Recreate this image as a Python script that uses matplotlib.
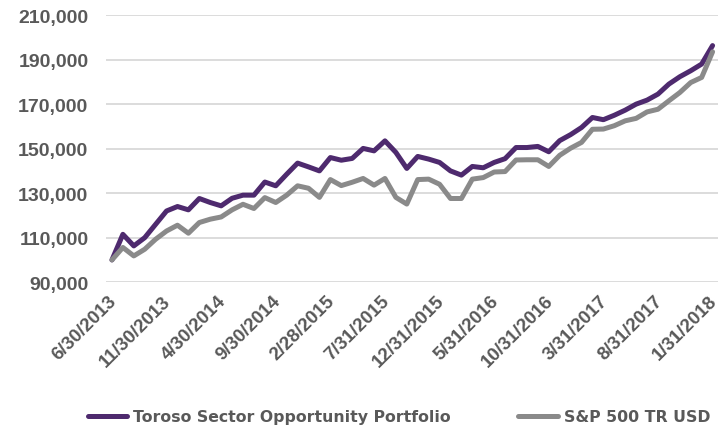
import matplotlib
matplotlib.use("Agg")
import matplotlib.pyplot as plt
import matplotlib.transforms as mtransforms
from matplotlib.ticker import FuncFormatter
import pandas as pd

# Monthly dates 6/30/2013 .. 1/31/2018
dates = pd.date_range("2013-06-30", "2018-01-31", freq="ME")
date_labels = [f"{d.month}/{d.day}/{d.year}" for d in dates]

toroso = [100000, 111500, 106300, 110000, 116000, 122000, 124000, 122500, 127600, 125800,
          124300, 127700, 129100, 129100, 135000, 133300, 138500, 143500, 141800, 140000,
          146000, 144800, 145600, 150100, 149000, 153500, 148300, 141100, 146500, 145300,
          143800, 140000, 138100, 142000, 141400, 143800, 145500, 150500, 150500, 151000,
          148600, 153600, 156300, 159500, 164000, 163000, 165000, 167300, 170000, 171800,
          174500, 179000, 182300, 185000, 188000, 196300]

sp500 = [100000, 105600, 101800, 104800, 109300, 113000, 115600, 112000, 116800, 118300,
         119300, 122500, 125000, 123100, 128000, 125800, 129100, 133300, 132200, 128100,
         136100, 133400, 134900, 136600, 133600, 136600, 128100, 125100, 136100, 136300,
         134000, 127600, 127600, 136300, 137000, 139500, 139700, 144900, 145000, 145000,
         142000, 147000, 150200, 152800, 158700, 158800, 160300, 162500, 163600, 166500,
         167700, 171500, 175200, 179700, 182000, 193500]

series_names = ["Toroso Sector Opportunity Portfolio", "S&P 500 TR USD"]
y_ticks = [90000, 110000, 130000, 150000, 170000, 190000, 210000]

purple = "#4E2A6E"
gray = "#8A8A8A"
text_color = "#595959"

fig = plt.figure(figsize=(7.22, 4.35), dpi=100)
ax = fig.add_axes([0.1475, 0.349, 0.847, 0.614])

x = list(range(len(dates)))
ax.plot(x, toroso, color=purple, lw=3.6, solid_capstyle="round", solid_joinstyle="round",
        label=series_names[0], zorder=3)
ax.plot(x, sp500, color=gray, lw=3.6, solid_capstyle="round", solid_joinstyle="round",
        label=series_names[1], zorder=4)

ax.set_xlim(-0.5, len(dates) - 0.5)
ax.set_ylim(90000, 210000)
ax.set_yticks(y_ticks)
ax.yaxis.set_major_formatter(FuncFormatter(lambda v, p: f"{int(v):,}"))
ax.grid(axis="y", color="#D9D9D9", lw=1.3, zorder=0)
ax.set_axisbelow(True)
for s in ax.spines.values():
    s.set_visible(False)

tick_idx = list(range(0, len(dates), 5))
ax.set_xticks(tick_idx)
ax.set_xticklabels([date_labels[i] for i in tick_idx], rotation=45, ha="right",
                   rotation_mode="anchor", fontsize=13.5, fontweight="bold",
                   color=text_color, family="Liberation Sans")
ax.tick_params(axis="x", length=0, pad=7)
ax.tick_params(axis="y", length=0, pad=13, labelsize=14, labelcolor=text_color)
for lab in ax.get_yticklabels():
    lab.set_fontweight("bold")
    lab.set_family("Liberation Sans")
shift = mtransforms.ScaledTranslation(-4 / 100, 0, fig.dpi_scale_trans)
for lab in ax.get_xticklabels():
    lab.set_transform(lab.get_transform() + shift)

leg = fig.legend(loc="center left", bbox_to_anchor=(88 / 722, 17 / 435), ncol=2, frameon=False,
                 handlelength=2.5, handletextpad=0.38, columnspacing=4.3,
                 borderaxespad=0, borderpad=0,
                 prop={"family": "DejaVu Sans", "weight": "bold", "size": 11.3})
for t in leg.get_texts():
    t.set_color(text_color)

fig.savefig("out.png", dpi=100)
